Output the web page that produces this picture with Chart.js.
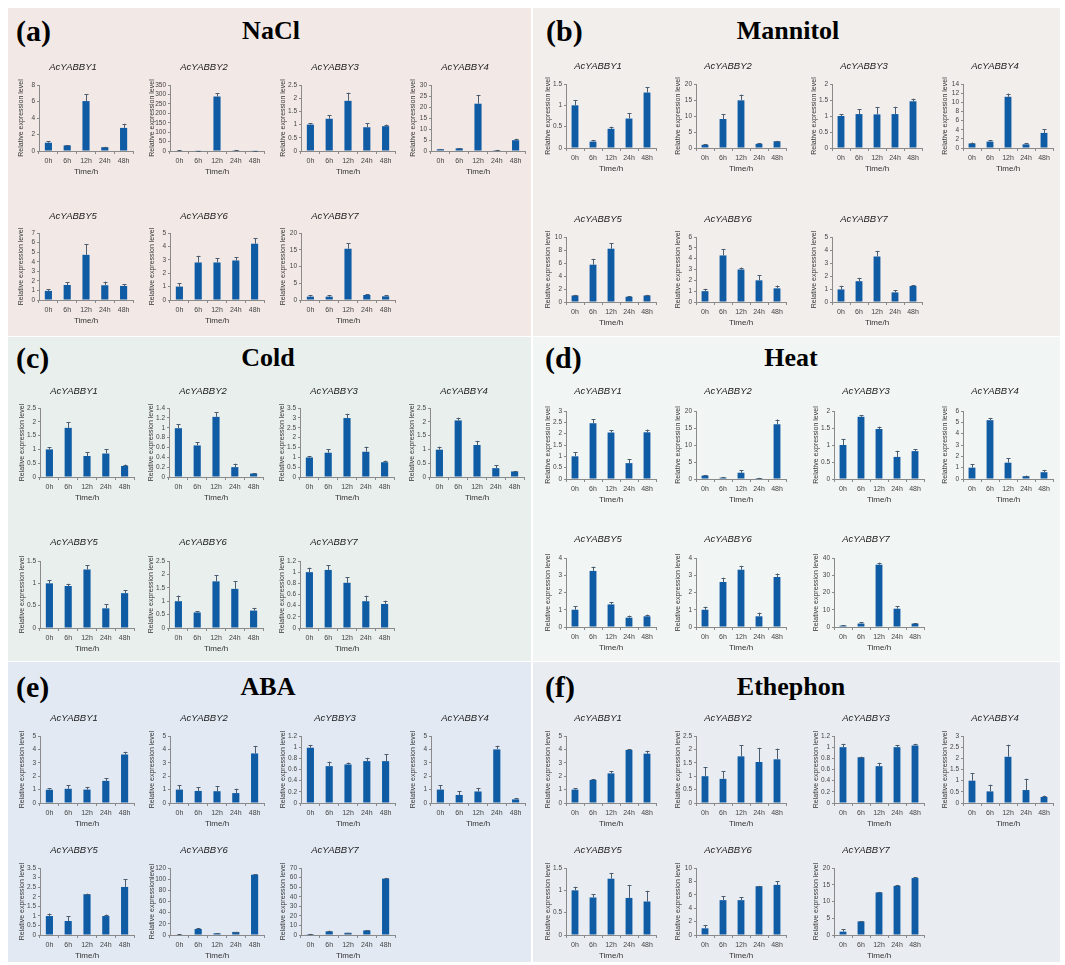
<!DOCTYPE html>
<html>
<head>
<meta charset="utf-8">
<script src="https://cdn.jsdelivr.net/npm/chart.js@4.4.1/dist/chart.umd.min.js"></script>
<style>
  html,body{margin:0;padding:0;background:#ffffff;}
  body{width:1065px;height:965px;position:relative;overflow:hidden;}
  .panel{position:absolute;}
  .lab{position:absolute;font-family:"Liberation Serif","Times New Roman",serif;font-weight:bold;color:#000;transform:translateY(-50%);font-size:30px;line-height:1;}
  .ttl{position:absolute;font-family:"Liberation Serif","Times New Roman",serif;font-weight:bold;color:#000;transform:translate(-50%,-50%);font-size:26px;line-height:1;white-space:nowrap;}
  canvas{position:absolute;}
</style>
</head>
<body>
<script>
// ---------------- DATA ----------------
const times = ['0h', '6h', '12h', '24h', '48h'];
const genes = ['AcYABBY1', 'AcYABBY2', 'AcYABBY3', 'AcYABBY4', 'AcYABBY5', 'AcYABBY6', 'AcYABBY7'];
const abaGenes = ['AcYABBY1', 'AcYABBY2', 'AcYBBY3', 'AcYABBY4', 'AcYABBY5', 'AcYABBY6', 'AcYABBY7'];
const treatments = ['NaCl', 'Mannitol', 'Cold', 'Heat', 'ABA', 'Ethephon'];
const panelLetters = ['(a)', '(b)', '(c)', '(d)', '(e)', '(f)'];

const naclVals = [[1.0, 0.68, 6.05, 0.46, 2.8], [3, 2, 289, 4, 2], [1.0, 1.22, 1.9, 0.9, 0.94], [0.8, 1.2, 21.5, 0.4, 4.9], [0.95, 1.57, 4.72, 1.54, 1.47], [1.0, 2.8, 2.8, 2.95, 4.2], [1.0, 1.0, 15.3, 1.5, 1.1]];
const naclErr  = [[0.2, 0.05, 0.85, 0.05, 0.5], [1, 0.5, 17, 1, 0.5], [0.06, 0.13, 0.31, 0.16, 0.06], [0.1, 0.15, 4, 0.1, 0.7], [0.17, 0.28, 1.12, 0.38, 0.2], [0.25, 0.5, 0.33, 0.25, 0.42], [0.5, 0.4, 1.6, 0.2, 0.3]];
const naclMax  = [8, 350, 2.5, 30, 7, 5, 20];
const naclStep = [2, 50, 0.5, 5, 1, 1, 5];

const mannVals = [[1.0, 0.15, 0.45, 0.69, 1.3], [1.0, 9.06, 14.9, 1.3, 2.1], [1.0, 1.06, 1.05, 1.06, 1.46], [1.0, 1.4, 11.2, 0.8, 3.3], [1.0, 5.74, 8.2, 0.8, 1.0], [1.0, 4.3, 3.0, 2.0, 1.26], [0.97, 1.6, 3.5, 0.74, 1.23]];
const mannErr  = [[0.12, 0.03, 0.05, 0.12, 0.12], [0.2, 1.5, 1.8, 0.15, 0.15], [0.06, 0.15, 0.22, 0.23, 0.08], [0.2, 0.25, 0.7, 0.3, 0.8], [0.1, 0.9, 0.87, 0.1, 0.1], [0.22, 0.6, 0.18, 0.45, 0.26], [0.28, 0.26, 0.43, 0.18, 0.05]];
const mannMax  = [1.5, 20, 2, 14, 10, 6, 5];
const mannStep = [0.5, 5, 0.5, 2, 2, 1, 1];

const coldVals = [[1.0, 1.78, 0.76, 0.85, 0.4], [0.99, 0.64, 1.22, 0.2, 0.07], [0.99, 1.23, 2.99, 1.28, 0.75], [0.99, 2.05, 1.16, 0.32, 0.2], [1.0, 0.94, 1.31, 0.44, 0.78], [1.0, 0.58, 1.74, 1.46, 0.65], [1.0, 1.04, 0.81, 0.48, 0.43]];
const coldErr  = [[0.07, 0.21, 0.13, 0.15, 0.05], [0.08, 0.07, 0.09, 0.07, 0.01], [0.05, 0.17, 0.22, 0.26, 0.08], [0.11, 0.1, 0.15, 0.11, 0.02], [0.07, 0.05, 0.09, 0.09, 0.06], [0.21, 0.05, 0.22, 0.28, 0.1], [0.08, 0.08, 0.1, 0.1, 0.06]];
const coldMax  = [2.5, 1.4, 3.5, 2.5, 1.5, 2.5, 1.2];
const coldStep = [0.5, 0.2, 0.5, 0.5, 0.5, 0.5, 0.2];

const heatVals = [[1.0, 2.46, 2.05, 0.7, 2.06], [1.0, 0.4, 1.85, 0.3, 16.1], [1.0, 1.83, 1.47, 0.65, 0.82], [1.0, 5.19, 1.44, 0.25, 0.6], [1.0, 3.25, 1.31, 0.54, 0.62], [1.0, 2.61, 3.32, 0.62, 2.9], [0.8, 2.0, 36.1, 10.6, 2.0]];
const heatErr  = [[0.19, 0.17, 0.1, 0.18, 0.12], [0.15, 0.05, 0.8, 0.05, 1.4], [0.18, 0.05, 0.07, 0.18, 0.05], [0.3, 0.2, 0.4, 0.05, 0.2], [0.2, 0.25, 0.12, 0.12, 0.1], [0.18, 0.25, 0.23, 0.21, 0.2], [0.2, 0.8, 1.2, 1.4, 0.2]];
const heatMax  = [3, 20, 2, 6, 4, 4, 40];
const heatStep = [0.5, 5, 0.5, 1, 1, 1, 10];

const abaVals = [[0.99, 1.06, 1.0, 1.65, 3.62], [1.0, 0.9, 0.88, 0.74, 3.7], [0.99, 0.66, 0.69, 0.75, 0.75], [1.0, 0.6, 0.86, 4.0, 0.27], [0.99, 0.73, 2.13, 0.99, 2.51], [1.0, 10.7, 3.0, 5.5, 108], [1.0, 3.8, 2.3, 4.8, 58.9]];
const abaErr  = [[0.1, 0.25, 0.2, 0.2, 0.2], [0.33, 0.27, 0.37, 0.33, 0.56], [0.05, 0.08, 0.035, 0.06, 0.12], [0.33, 0.28, 0.27, 0.27, 0.08], [0.13, 0.25, 0.03, 0.08, 0.4], [0.2, 1.0, 0.4, 0.4, 0.6], [0.2, 0.8, 0.3, 0.4, 0.8]];
const abaMax  = [5, 5, 1.2, 5, 3.5, 120, 70];
const abaStep = [1, 1, 0.2, 1, 0.5, 20, 10];

const ethVals = [[1.0, 1.72, 2.21, 3.96, 3.68], [1.0, 0.9, 1.74, 1.53, 1.63], [1.0, 0.82, 0.66, 1.0, 1.03], [1.0, 0.52, 2.07, 0.58, 0.27], [1.0, 0.84, 1.26, 0.83, 0.75], [1.0, 5.2, 5.2, 7.28, 7.48], [1.0, 4.06, 12.7, 14.65, 17.0]];
const ethErr  = [[0.1, 0.05, 0.15, 0.05, 0.22], [0.34, 0.29, 0.41, 0.53, 0.4], [0.06, 0.01, 0.06, 0.04, 0.03], [0.33, 0.3, 0.54, 0.51, 0.06], [0.08, 0.07, 0.13, 0.29, 0.24], [0.5, 0.6, 0.4, 0.05, 0.55], [0.7, 0.1, 0.15, 0.3, 0.2]];
const ethMax  = [5, 2.5, 1.2, 3, 1.5, 10, 20];
const ethStep = [1, 0.5, 0.2, 0.5, 0.5, 2, 5];

const yTitle = 'Relative expression level';
const abaY6Title = 'Relative expressionlevel';
const xTitle = 'Time/h';

// ---------------- LAYOUT / STYLE ----------------
const panels = [
  {vals: naclVals, err: naclErr, max: naclMax, step: naclStep, names: genes,
   box: [8, 8, 523, 328], bg: '#f2e9e6', lab: [16, 31], ttl: [271, 31],
   rows: [[68, 85, 151], [217, 233, 300]], cols: [39, 170, 301, 431], pw: 94},
  {vals: mannVals, err: mannErr, max: mannMax, step: mannStep, names: genes,
   box: [533, 8, 527, 328], bg: '#f1eeec', lab: [546, 31], ttl: [788, 31],
   rows: [[67, 84, 148], [220, 237, 302]], cols: [566, 696, 832, 963], pw: 90},
  {vals: coldVals, err: coldErr, max: coldMax, step: coldStep, names: genes,
   box: [8, 337, 523, 324], bg: '#e8efec', lab: [16, 358], ttl: [268, 358],
   rows: [[392, 408, 477], [543, 561, 628]], cols: [40, 169, 300, 430], pw: 94},
  {vals: heatVals, err: heatErr, max: heatMax, step: heatStep, names: genes,
   box: [533, 337, 527, 324], bg: '#f1f5f3', lab: [545, 358], ttl: [791, 358],
   rows: [[392, 411, 479], [540, 558, 627]], cols: [566, 696, 834, 963], pw: 90},
  {vals: abaVals, err: abaErr, max: abaMax, step: abaStep, names: abaGenes,
   box: [8, 662, 523, 300], bg: '#e2e9f3', lab: [16, 687], ttl: [268, 687],
   rows: [[719, 736, 803], [851, 868, 935]], cols: [40, 170, 301, 431], pw: 94},
  {vals: ethVals, err: ethErr, max: ethMax, step: ethStep, names: genes,
   box: [533, 662, 527, 300], bg: '#e9edf1', lab: [545, 687], ttl: [791, 687],
   rows: [[719, 736, 803], [851, 868, 935]], cols: [566, 696, 834, 963], pw: 90}
];

const BAR = '#0f5ba4';
const ERR = '#4d5d70';
const AXIS = '#8a8a8a';
const SANS = '"Liberation Sans", Arial, sans-serif';
const YW = 26;   // y-axis box width
const XH = 28;   // x-axis box height

const errorBars = {
  id: 'errorBars',
  afterDatasetsDraw(chart) {
    const ctx = chart.ctx, ys = chart.scales.y;
    chart.data.datasets.forEach((ds, i) => {
      const meta = chart.getDatasetMeta(i);
      meta.data.forEach((bar, j) => {
        const v = ds.data[j], e = ds.errors[j];
        const yt = ys.getPixelForValue(v + e);
        const x = Math.round(bar.x) + 0.5;
        ctx.save();
        ctx.strokeStyle = ERR; ctx.lineWidth = 1;
        ctx.beginPath();
        ctx.moveTo(x, bar.y); ctx.lineTo(x, yt);
        ctx.moveTo(x - 2, Math.round(yt) + 0.5); ctx.lineTo(x + 2, Math.round(yt) + 0.5);
        ctx.stroke();
        ctx.restore();
      });
    });
  }
};

function addDiv(cls, text, x, y) {
  const d = document.createElement('div');
  d.className = cls; d.textContent = text;
  d.style.left = x + 'px'; d.style.top = y + 'px';
  document.body.appendChild(d);
}

panels.forEach((p, pi) => {
  const bg = document.createElement('div');
  bg.className = 'panel';
  bg.style.left = p.box[0] + 'px'; bg.style.top = p.box[1] + 'px';
  bg.style.width = p.box[2] + 'px'; bg.style.height = p.box[3] + 'px';
  bg.style.background = p.bg;
  document.body.appendChild(bg);
  addDiv('lab', panelLetters[pi], p.lab[0], p.lab[1]);
  addDiv('ttl', treatments[pi], p.ttl[0], p.ttl[1]);

  for (let g = 0; g < 7; g++) {
    const row = g < 4 ? p.rows[0] : p.rows[1];
    const axisX = p.cols[g < 4 ? g : g - 4];
    const [titleY, plotTop, plotBottom] = row;
    const top = titleY - 8;
    const cv = document.createElement('canvas');
    const w = YW + p.pw + 1;
    const h = plotBottom - top + XH;
    cv.width = w; cv.height = h;
    cv.style.left = (axisX - YW) + 'px'; cv.style.top = top + 'px';
    cv.style.width = w + 'px'; cv.style.height = h + 'px';
    document.body.appendChild(cv);
    const titlePadBottom = plotTop - top - 2 - 11.4;

    new Chart(cv, {
      type: 'bar',
      data: {
        labels: times,
        datasets: [{
          data: p.vals[g], errors: p.err[g],
          backgroundColor: BAR, borderWidth: 0,
          barPercentage: 0.38, categoryPercentage: 1.0
        }]
      },
      options: {
        responsive: false, animation: false, devicePixelRatio: 1,
        layout: {padding: {left: 0, right: 1, top: 0, bottom: 0}},
        plugins: {
          legend: {display: false},
          tooltip: {enabled: false},
          title: {
            display: true, text: p.names[g], color: '#1a1a1a',
            font: {family: SANS, size: 9.5, style: 'italic', weight: 'normal'},
            padding: {top: 2, bottom: titlePadBottom}
          }
        },
        scales: {
          x: {
            grid: {display: true, drawOnChartArea: false, offset: true, tickLength: 3, color: AXIS},
            border: {display: true, color: AXIS, width: 1},
            ticks: {font: {family: SANS, size: 7}, color: '#444', padding: 3, maxRotation: 0, autoSkip: false},
            title: {display: true, text: xTitle, color: '#333', font: {family: SANS, size: 8}, padding: {top: 0, bottom: 2.5}},
            afterFit: s => { s.height = XH; }
          },
          y: {
            min: 0, max: p.max[g],
            grid: {display: true, drawOnChartArea: false, tickLength: 2, color: AXIS},
            border: {display: true, color: AXIS, width: 1},
            ticks: {stepSize: p.step[g], autoSkip: false, font: {family: SANS, size: 6.5}, color: '#444', padding: 2,
                    callback: v => String(parseFloat(Number(v).toFixed(2)))},
            title: {display: true, text: (pi === 4 && g === 5) ? abaY6Title : yTitle, color: '#333',
                    font: {family: SANS, size: 7}, padding: {top: 3.5, bottom: 0}},
            afterFit: s => { s.width = YW; }
          }
        }
      },
      plugins: [errorBars]
    });
  }
});
</script>
</body>
</html>
